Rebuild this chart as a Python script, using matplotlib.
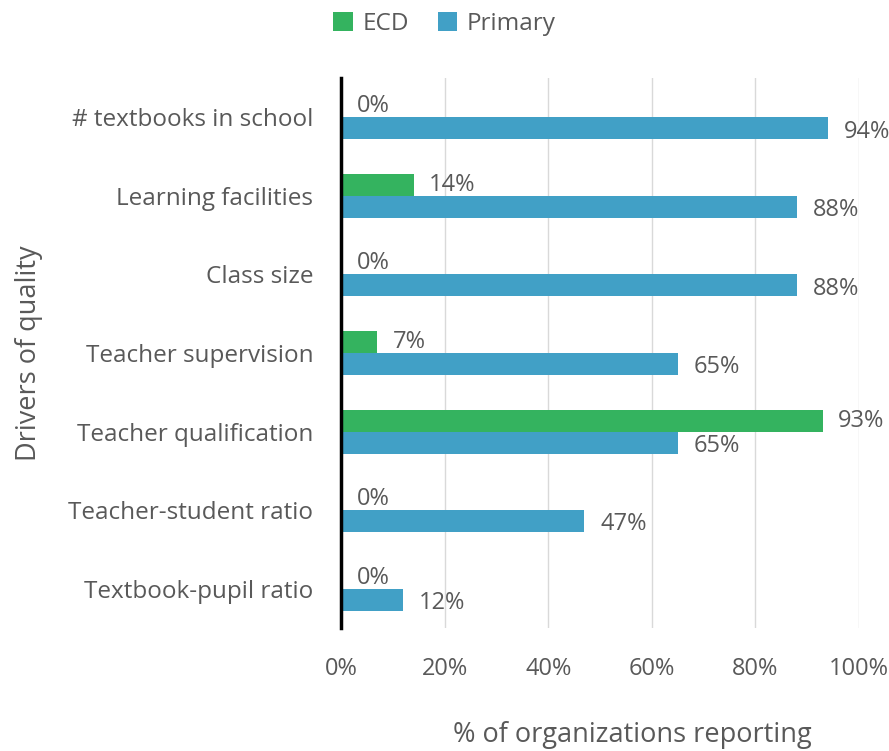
import numpy as np
import matplotlib
matplotlib.use('Agg')
import matplotlib.pyplot as plt

# ── Data ─────────────────────────────────────────────
categories = ['# textbooks in school', 'Learning facilities', 'Class size',
              'Teacher supervision', 'Teacher qualification',
              'Teacher-student ratio', 'Textbook-pupil ratio']
ecd     = [0, 14, 0, 7, 93, 0, 0]
primary = [94, 88, 88, 65, 65, 47, 12]
xticks  = [0, 20, 40, 60, 80, 100]

GREEN = '#34b35f'
BLUE  = '#41a0c6'
TEXT  = '#595959'

plt.rcParams['font.family'] = ['Open Sans', 'DejaVu Sans']

fig = plt.figure(figsize=(8.89, 7.51), dpi=100)
ax = fig.add_axes([0.3836, 0.1638, 0.5827, 0.7322])

y = np.arange(len(categories))
h = 0.28
ax.barh(y - h / 2, ecd, height=h, color=GREEN, label='ECD')
ax.barh(y + h / 2, primary, height=h, color=BLUE, label='Primary')

for yi, v in zip(y, ecd):
    ax.text(v + 3, yi - h / 2, f'{v}%', va='center',
            ha='left', fontsize=17, color=TEXT)
for yi, v in zip(y, primary):
    ax.text(v + 3, yi + h / 2 + 0.04, f'{v}%', va='center',
            ha='left', fontsize=17, color=TEXT)

ax.set_xlim(0, 100)
ax.set_ylim(len(categories) - 0.5, -0.5)
ax.set_yticks(y)
ax.set_yticklabels(categories, fontsize=17.5, color=TEXT)
ax.set_xticks(xticks)
ax.set_xticklabels([f'{t}%' for t in xticks], fontsize=17, color=TEXT)
ax.tick_params(length=0)
ax.tick_params(axis='y', pad=20)
ax.tick_params(axis='x', pad=21)
ax.xaxis.grid(True, color='#d9d9d9', linewidth=1)
ax.set_axisbelow(True)
for s in ['top', 'right', 'bottom']:
    ax.spines[s].set_visible(False)
ax.spines['left'].set_linewidth(2.5)
ax.spines['left'].set_color('black')

ax.set_xlabel('% of organizations reporting', fontsize=19.5, color=TEXT)
ax.xaxis.label.set_va('center')
ax.xaxis.set_label_coords(0.562, -0.195)
ax.set_ylabel('Drivers of quality', fontsize=19.5, color=TEXT, labelpad=18)

fig.legend(loc='upper center', bbox_to_anchor=(0.5, 1.013), ncol=2, frameon=False,
           fontsize=17.5, handlelength=0.8, handleheight=0.8, columnspacing=1.2,
           handletextpad=0.4, labelcolor=TEXT)

fig.savefig('out.png', dpi=100)
